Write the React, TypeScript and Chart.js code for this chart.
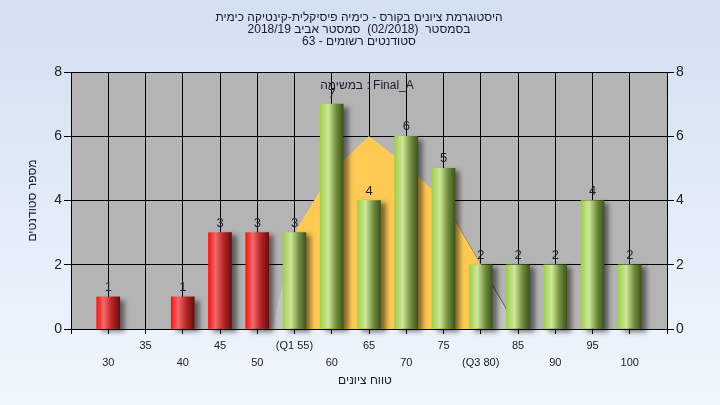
import React, { useEffect, useRef } from 'react';
import { Chart, registerables } from 'chart.js';

Chart.register(...registerables);

// ---- data ----
const scores = [30, 35, 40, 45, 50, 55, 60, 65, 70, 75, 80, 85, 90, 95, 100];
const counts = [1, 0, 1, 3, 3, 3, 7, 4, 6, 5, 2, 2, 2, 4, 2];
const xTickLabels = ['30', '35', '40', '45', '50', '(Q1 55)', '60', '65', '70', '75', '(Q3 80)', '85', '90', '95', '100'];
const curveX = [52, 55, 60, 65, 70, 75, 80, 85];
const curveY = [0, 3, 4.9, 6, 5.1, 4, 2, 0];
const iqrX = [55, 60, 65, 70, 75, 80];
const iqrY = [3, 4.9, 6, 5.1, 4, 2];
const yTicks = [0, 2, 4, 6, 8];
const passScore = 55;

const titleLines = [
  'היסטוגרמת ציונים בקורס - כימיה פיסיקלית-קינטיקה כימית',
  'בסמסטר  (02/2018)  סמסטר אביב 2018/19',
  'סטודנטים רשומים - 63',
];
const taskLabel = 'במשימה : Final_A';
const xTitle = 'טווח ציונים';
const yTitle = 'מספר סטודנטים';

const FONT = "'Liberation Sans', Arial, 'DejaVu Sans', sans-serif";
const BAR_W = 23;
const TEXT_COLOR = '#1e1a2e';

const decorPlugin = {
  id: 'decor',
  beforeDraw(chart: any) {
    const { ctx, width, height, chartArea } = chart;
    ctx.save();
    const g = ctx.createLinearGradient(0, 0, 0, height);
    g.addColorStop(0, '#d3e0f1');
    g.addColorStop(1, '#f0f6fd');
    ctx.fillStyle = g;
    ctx.fillRect(0, 0, width, height);
    ctx.fillStyle = '#b4b4b4';
    ctx.fillRect(chartArea.left, chartArea.top, chartArea.right - chartArea.left, chartArea.bottom - chartArea.top);
    ctx.restore();
  },
  afterDatasetsDraw(chart: any) {
    const { ctx, chartArea } = chart;
    ctx.save();
    const meta = chart.getDatasetMeta(0);
    ctx.font = `13px ${FONT}`;
    ctx.fillStyle = '#1a2238';
    ctx.textAlign = 'center';
    ctx.textBaseline = 'alphabetic';
    meta.data.forEach((el: any, i: number) => {
      if (!counts[i]) return;
      ctx.fillText(String(counts[i]), el.x, el.y - 6);
    });
    ctx.fillStyle = TEXT_COLOR;
    ctx.font = `12px ${FONT}`;
    ctx.textBaseline = 'middle';
    const cx = 359;
    titleLines.forEach((t, i) => ctx.fillText(t, cx, 18 + i * 12));
    ctx.fillText(taskLabel, 367, 86);
    ctx.fillText(xTitle, 365, 381);
    ctx.translate(33, (chartArea.top + chartArea.bottom) / 2);
    ctx.rotate(-Math.PI / 2);
    ctx.fillText(yTitle, 0, 0);
    ctx.restore();
  },
  beforeDatasetDraw(chart: any, args: any) {
    if (args.index === 0) {
      const ctx = chart.ctx;
      ctx.save();
      ctx.shadowColor = 'rgba(0,0,0,0.5)';
      ctx.shadowOffsetX = 5;
      ctx.shadowOffsetY = 3;
      ctx.shadowBlur = 5;
    }
  },
  afterDatasetDraw(chart: any, args: any) {
    if (args.index === 0) chart.ctx.restore();
  },
};

function barFill(c: any) {
  const chart = c.chart;
  const i = c.dataIndex;
  if (!counts[i]) return 'rgba(0,0,0,0)';
  const red = scores[i] < passScore;
  const fallback = red ? '#d02020' : '#8fb648';
  const xs = chart.scales && chart.scales.x;
  if (!xs || c.type !== 'data' || !chart.chartArea) return fallback;
  const px = xs.getPixelForValue(scores[i]);
  if (!isFinite(px)) return fallback;
  const g = chart.ctx.createLinearGradient(px - BAR_W / 2, 0, px + BAR_W / 2, 0);
  if (red) {
    g.addColorStop(0, '#ff1010');
    g.addColorStop(0.3, '#f26a6a');
    g.addColorStop(0.65, '#b82626');
    g.addColorStop(1, '#6a0e0e');
  } else {
    g.addColorStop(0, '#9fcf4a');
    g.addColorStop(0.35, '#cde79a');
    g.addColorStop(0.7, '#6f8c3a');
    g.addColorStop(1, '#3f5420');
  }
  return g;
}

export default function App() {
  const ref = useRef<HTMLCanvasElement>(null);
  useEffect(() => {
    document.body.style.margin = '0';
    const canvas = ref.current!;
    const chart = new Chart(canvas, {
      type: 'bar',
      data: {
        datasets: [
          {
            type: 'bar',
            data: scores.map((s, i) => ({ x: s, y: counts[i] })),
            backgroundColor: barFill as any,
            borderWidth: 0,
            barThickness: BAR_W,
            order: 0,
            clip: false as any,
            yAxisID: 'y',
          },
          {
            type: 'line',
            data: iqrX.map((s, i) => ({ x: s, y: iqrY[i] })),
            backgroundColor: '#ffc952',
            borderColor: 'rgba(0,0,0,0)',
            borderWidth: 0,
            pointRadius: 0,
            fill: 'origin',
            tension: 0,
            order: 1,
            yAxisID: 'y',
          },
          {
            type: 'line',
            data: curveX.map((s, i) => ({ x: s, y: curveY[i] })),
            backgroundColor: '#c2c2c2',
            borderColor: '#5a5a5a',
            borderWidth: 1,
            pointRadius: 0,
            fill: 'origin',
            tension: 0,
            order: 2,
            yAxisID: 'y',
            segment: {
              borderColor: (s: any) => (s.p0.parsed.x >= 75 ? '#5a5a5a' : 'rgba(0,0,0,0)'),
            },
          },
        ] as any,
      },
      options: {
        responsive: false,
        animation: false,
        events: [],
        layout: { padding: { top: 72, left: 0, right: 0, bottom: 0 } },
        plugins: { legend: { display: false }, tooltip: { enabled: false }, title: { display: false } },
        scales: {
          x: {
            type: 'linear',
            offset: false,
            min: 25,
            max: 105,
            afterFit: (s: any) => { s.height = 76; },
            afterBuildTicks: (s: any) => {
              const t = [];
              for (let v = 25; v <= 105; v += 5) t.push({ value: v });
              s.ticks = t;
            },
            ticks: {
              autoSkip: false,
              maxRotation: 0,
              padding: 3,
              color: '#222222',
              font: { family: FONT, size: 11, lineHeight: 17 / 11 },
              callback: (v: any) => {
                const i = scores.indexOf(Number(v));
                if (i < 0) return '';
                return i % 2 === 1 ? xTickLabels[i] : ['', xTickLabels[i]];
              },
            },
            grid: { offset: false, color: '#000000', lineWidth: 1, tickLength: 5, tickColor: '#000000' },
            border: { color: '#000000', width: 1 },
          },
          y: {
            position: 'left',
            min: 0,
            max: 8,
            afterFit: (s: any) => { s.width = 71; },
            afterBuildTicks: (s: any) => { s.ticks = yTicks.map((v) => ({ value: v })); },
            ticks: { padding: 2, color: '#222222', font: { family: FONT, size: 14 } },
            grid: { color: '#000000', lineWidth: 1, tickLength: 7, tickColor: '#000000' },
            border: { color: '#000000', width: 1 },
          },
          y2: {
            position: 'right',
            min: 0,
            max: 8,
            afterFit: (s: any) => { s.width = 53; },
            afterBuildTicks: (s: any) => { s.ticks = yTicks.map((v) => ({ value: v })); },
            ticks: { padding: 2, color: '#222222', font: { family: FONT, size: 14 } },
            grid: { drawOnChartArea: false, color: '#000000', tickLength: 7, tickColor: '#000000' },
            border: { color: '#000000', width: 1 },
          },
        },
      } as any,
      plugins: [decorPlugin],
    });
    chart.update();
    return () => chart.destroy();
  }, []);
  return (
    <div style={{ width: 720, height: 405 }}>
      <canvas ref={ref} width={720} height={405} style={{ display: 'block' }} />
    </div>
  );
}
